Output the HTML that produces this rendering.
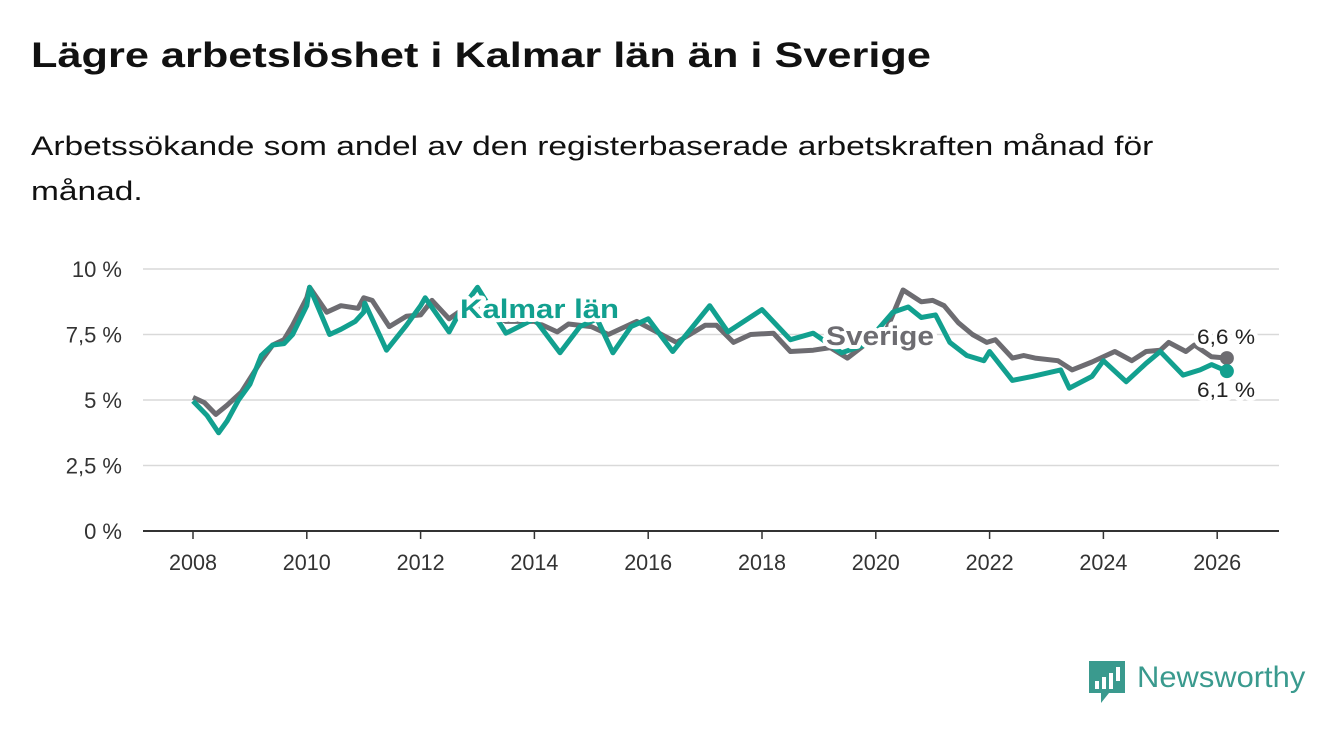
<!DOCTYPE html>
<html><head><meta charset="utf-8"><style>
body{margin:0;width:1340px;height:734px;background:#fff;font-family:"Liberation Sans",sans-serif;overflow:hidden;position:relative}
h1{position:absolute;left:31px;top:36px;margin:0;font-size:35px;font-weight:bold;color:#111;transform:scaleX(1.237);transform-origin:left top;white-space:nowrap}
p{position:absolute;left:31px;top:124px;margin:0;font-size:27px;line-height:45px;color:#111;width:965px;transform:scaleX(1.24);transform-origin:left top}
svg{position:absolute;left:0;top:0}
</style></head><body>
<h1>Lägre arbetslöshet i Kalmar län än i Sverige</h1>
<p>Arbetssökande som andel av den registerbaserade arbetskraften månad för månad.</p>
<svg id="c" width="1340" height="734"></svg>
<script>
const yTicks=[0,2.5,5,7.5,10];
const yTickLabels=["0 %","2,5 %","5 %","7,5 %","10 %"];
const xTicks=[2008,2010,2012,2014,2016,2018,2020,2022,2024,2026];
const kalmarT=[2008,2008.25,2008.45,2008.6,2008.8,2009,2009.2,2009.4,2009.6,2009.75,2010,2010.05,2010.4,2010.6,2010.85,2011.0,2011.02,2011.4,2011.75,2012,2012.08,2012.5,2012.7,2013,2013.5,2014,2014.45,2014.8,2015.1,2015.38,2015.7,2016,2016.43,2017.08,2017.4,2018,2018.5,2018.9,2019.4,2019.8,2020.3,2020.57,2020.8,2021.05,2021.3,2021.6,2021.9,2022,2022.4,2022.75,2023.25,2023.4,2023.8,2024,2024.4,2024.75,2025,2025.4,2025.7,2025.9,2026.17];
const kalmarV=[4.96,4.4,3.75,4.2,5.0,5.6,6.7,7.1,7.15,7.5,8.6,9.3,7.5,7.7,8.0,8.35,8.7,6.9,7.85,8.6,8.9,7.6,8.4,9.3,7.55,8.1,6.8,7.8,8.1,6.8,7.8,8.1,6.85,8.6,7.6,8.45,7.3,7.55,6.8,7.1,8.35,8.55,8.15,8.25,7.2,6.7,6.5,6.85,5.75,5.9,6.15,5.45,5.9,6.5,5.7,6.4,6.85,5.95,6.15,6.35,6.1];
const sverigeT=[2008,2008.2,2008.4,2008.6,2008.85,2009.2,2009.4,2009.6,2009.75,2010,2010.05,2010.35,2010.6,2010.9,2011,2011.15,2011.45,2011.75,2012,2012.2,2012.5,2012.7,2013,2013.5,2014,2014.4,2014.6,2015,2015.3,2015.7,2015.8,2016.5,2017,2017.2,2017.5,2017.8,2018.2,2018.5,2018.9,2019.2,2019.5,2019.8,2020.2,2020.48,2020.8,2021,2021.2,2021.45,2021.7,2021.95,2022.1,2022.4,2022.6,2022.8,2023.2,2023.45,2023.8,2024.2,2024.5,2024.75,2025,2025.15,2025.45,2025.6,2025.9,2026.17];
const sverigeV=[5.1,4.9,4.45,4.8,5.3,6.5,7.1,7.3,7.85,8.9,9.3,8.35,8.6,8.5,8.9,8.8,7.8,8.2,8.25,8.8,8.1,8.4,8.6,8.0,8.0,7.6,7.9,7.8,7.5,7.9,8.0,7.2,7.85,7.85,7.2,7.5,7.55,6.85,6.9,7.0,6.6,7.1,7.75,9.2,8.75,8.8,8.6,7.95,7.5,7.2,7.3,6.6,6.7,6.6,6.5,6.15,6.45,6.85,6.5,6.85,6.9,7.2,6.85,7.1,6.65,6.6];
const NS="http://www.w3.org/2000/svg",svg=document.getElementById('c');
const X=t=>193+(t-2008)*56.9, Y=v=>531-v*26.2;
function mk(tag,a,txt){const e=document.createElementNS(NS,tag);for(const k in a)e.setAttribute(k,a[k]);if(txt!=null)e.textContent=txt;svg.appendChild(e);return e;}
yTicks.forEach((v,i)=>{
 const g=mk('line',{x1:143,x2:1279,y1:Y(v),y2:Y(v),stroke:v==0?'#333':'#d9d9d9','stroke-width':v==0?2:1.5});
 
 
 const t=mk('text',{x:122,y:Y(v)+8,'text-anchor':'end','font-size':22,fill:'#333'},yTickLabels[i]);
 
 
});
xTicks.forEach(y=>{
 const l=mk('line',{x1:X(y),x2:X(y),y1:531,y2:539,stroke:'#333','stroke-width':1.5});
 
 
 const t=mk('text',{x:X(y),y:570,'text-anchor':'middle','font-size':22,fill:'#333',textLength:48,lengthAdjust:'spacingAndGlyphs'},y);
 
 
});
function line(T,V,col,name){
 const d=T.map((t,i)=>(i?'L':'M')+X(t).toFixed(1)+','+Y(V[i]).toFixed(1)).join('');
 const p=mk('path',{d:d,fill:'none',stroke:col,'stroke-width':5,'stroke-linejoin':'round'});
 
 
 const c=mk('circle',{cx:X(T[T.length-1]),cy:Y(V[V.length-1]),r:7,fill:col});
 
 
}
line(sverigeT,sverigeV,'#6d6c71','sverige-line');
line(kalmarT,kalmarV,'#12a08f','kalmar-line');
function lab(x,y,txt,col,name,size,bold,len){
 const a={x:x,y:y,'font-size':size,fill:col,stroke:'#fff','stroke-width':8,'paint-order':'stroke','stroke-linejoin':'round',textLength:len,lengthAdjust:'spacingAndGlyphs'};
 if(bold)a['font-weight']='bold';
 const t=mk('text',a,txt);
 
 
}
lab(460,318,'Kalmar län','#12a08f','kalmar-series-label',27,true,159);
lab(826,345,'Sverige','#6d6c71','sverige-series-label',27,true,108);
lab(1197,344,'6,6 %','#222','sverige-end-value',21,false,58);
lab(1197,397,'6,1 %','#222','kalmar-end-value',21,false,58);
</script>
<div style="position:absolute;left:1089px;top:661px;display:flex;align-items:center">
<svg width="36" height="42" style="position:static"><path d="M0 0H36V32H20L12 42V32H0Z" fill="#3a9a8e"/><rect x="6" y="20" width="4" height="8" fill="#fff"/><rect x="13" y="16" width="4" height="12" fill="#fff"/><rect x="20" y="12" width="4" height="16" fill="#fff"/><rect x="27" y="6" width="4" height="14" fill="#fff"/></svg>
<span style="font-size:30px;color:#3a9a8e;margin-left:12px;margin-top:-8px;display:inline-block;transform:scaleX(1.03);transform-origin:left">Newsworthy</span></div>
</body></html>
